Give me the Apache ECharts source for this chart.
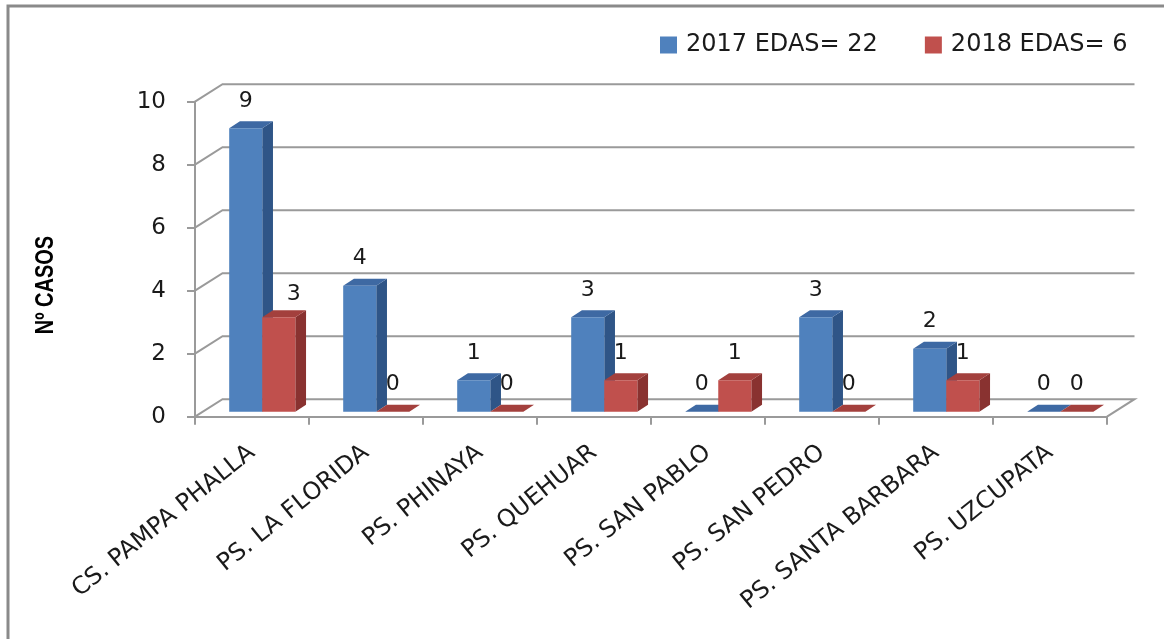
<!DOCTYPE html>
<html>
<head>
<meta charset="utf-8">
<script src="https://cdn.jsdelivr.net/npm/echarts@6/dist/echarts.min.js"></script>
<style>html,body{margin:0;padding:0;background:#fff;}#c{width:1164px;height:639px;}</style>
</head>
<body>
<div id="c"></div>
<script>
const categories = ['CS. PAMPA PHALLA','PS. LA FLORIDA','PS. PHINAYA','PS. QUEHUAR','PS. SAN PABLO','PS. SAN PEDRO','PS. SANTA BARBARA','PS. UZCUPATA'];
const edas2017 = [9,4,1,3,0,3,2,0];
const edas2018 = [3,0,0,1,1,0,1,0];
const yTicks = [0,2,4,6,8,10];
const seriesNames = ['2017 EDAS= 22','2018 EDAS= 6'];

const DX = 27.5, DY = -17.5;      // depth offset of the back wall (px)
const F1 = 0.29, F2 = 0.68;        // bar depth range (fraction of depth)
const BAR_START = 0.23, BAR_W = 0.29;
const GRID_COLOR = '#9a9a9a';
const FONT = 'DejaVu Sans';
const TEXT_COLOR = '#1a1a1a';
const faces = [
  {front:'#4F81BD', side:'#2F5587', top:'#3E69A3'},
  {front:'#C0504D', side:'#893230', top:'#A3403D'}
];
const allSeries = [edas2017, edas2018];

const chart = echarts.init(document.getElementById('c'), null, {renderer:'canvas'});

function wallItem(params, api){
  const cs = params.coordSys;
  const left = cs.x, right = cs.x + cs.width;
  const children = [];
  yTicks.forEach(v => {
    const y = api.coord([0, v])[1];
    const pts = [[left, y],[left+DX, y+DY],[right+DX, y+DY]];
    if (v === 0) pts.push([right, y]);
    children.push({type:'polyline', shape:{points:pts}, style:{stroke:GRID_COLOR, lineWidth:2, fill:null}, silent:true});
  });
  return {type:'group', children};
}

function barItem(sIdx){
  return function(params, api){
    const cat = api.value(0), val = api.value(1);
    const base = api.coord([cat, 0]);
    const top = api.coord([cat, val]);
    const bw = api.size([1, 0])[0];
    const x1 = base[0] - bw/2 + bw*(BAR_START + sIdx*BAR_W) + F1*DX;
    const x2 = x1 + bw*BAR_W;
    const yb = base[1] + F1*DY;
    const yt = top[1] + F1*DY;
    const dx = (F2-F1)*DX, dy = (F2-F1)*DY;
    const c = faces[sIdx];
    // label: moved aside when the neighbouring (front-left) bar is much taller
    let lx = (x1+x2)/2, ly = yt - 27;
    if (sIdx === 1 && val > 0 && allSeries[0][cat] - val > 4) { lx += 15; ly += 4; }
    return {type:'group', children:[
      {type:'polygon', shape:{points:[[x2,yb],[x2,yt],[x2+dx,yt+dy],[x2+dx,yb+dy]]}, style:{fill:c.side}},
      {type:'polygon', shape:{points:[[x1,yt],[x2,yt],[x2+dx,yt+dy],[x1+dx,yt+dy]]}, style:{fill:c.top}},
      {type:'rect', shape:{x:x1, y:yt, width:x2-x1, height:yb-yt}, style:{fill:c.front}},
      {type:'text', x:lx, y:ly, style:{text:String(val), fontFamily:FONT, fontSize:22, fill:TEXT_COLOR, align:'center', verticalAlign:'middle'}}
    ]};
  };
}

const option = {
  backgroundColor:'#fff',
  animation:false,
  grid:{left:195, right:57, top:101.7, bottom:222.3},
  legend:{
    left:655, top:28, itemWidth:17, itemHeight:17, itemGap:47,
    textStyle:{fontFamily:FONT, fontSize:24, color:TEXT_COLOR, padding:[0,0,0,4]},
    data:[
      {name:seriesNames[0], icon:'rect', itemStyle:{color:faces[0].front}},
      {name:seriesNames[1], icon:'rect', itemStyle:{color:faces[1].front}}
    ]
  },
  xAxis:{
    type:'category', data:categories, boundaryGap:true,
    axisLine:{show:true, lineStyle:{color:GRID_COLOR, width:2}},
    axisTick:{show:true, length:8, lineStyle:{color:GRID_COLOR, width:2}},
    axisLabel:{rotate:39, margin:33, fontFamily:FONT, fontSize:24, color:TEXT_COLOR, interval:0}
  },
  yAxis:{
    type:'value', min:0, max:10, interval:2,
    axisLine:{show:true, lineStyle:{color:GRID_COLOR, width:2}},
    axisTick:{show:true, length:8, lineStyle:{color:GRID_COLOR, width:2}},
    axisLabel:{margin:29, fontFamily:FONT, fontSize:23, color:TEXT_COLOR},
    splitLine:{show:false}
  },
  graphic:[
    {type:'rect', shape:{x:8, y:6, width:1400, height:900}, style:{fill:null, stroke:'#8a8a8a', lineWidth:3}, silent:true},
    {type:'text', x:46, y:285, rotation:Math.PI/2, scaleY:1.25, style:{text:'Nº CASOS', fontFamily:'Liberation Sans', fontWeight:'bold', fontSize:20, fill:'#000', align:'center', verticalAlign:'middle'}}
  ],
  series:[
    {type:'custom', name:'wall', renderItem:wallItem, data:[[0,0]], silent:true, z:1},
    {type:'custom', name:seriesNames[0], renderItem:barItem(0), itemStyle:{color:faces[0].front},
     data:edas2017.map((v,i)=>[i,v]), z:2},
    {type:'custom', name:seriesNames[1], renderItem:barItem(1), itemStyle:{color:faces[1].front},
     data:edas2018.map((v,i)=>[i,v]), z:3}
  ]
};
chart.setOption(option);
</script>
</body>
</html>
